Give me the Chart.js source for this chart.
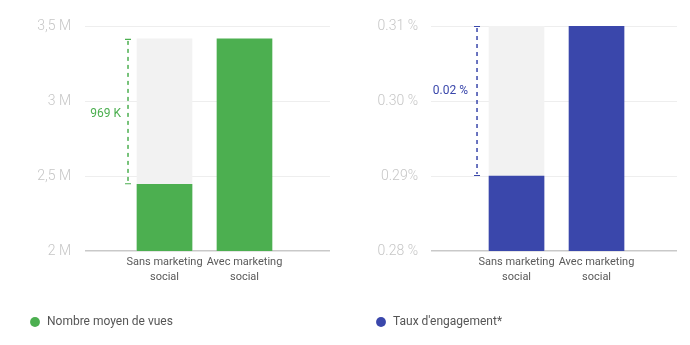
<!DOCTYPE html>
<html>
<head>
<meta charset="utf-8">
<script src="https://cdn.jsdelivr.net/npm/chart.js@4.4.1/dist/chart.umd.min.js"></script>
<style>
  html, body { margin: 0; padding: 0; background: #ffffff; }
  #wrap { position: relative; width: 690px; height: 345px; }
  .cell { position: absolute; top: 0; width: 345px; height: 345px; }
  #c1 { left: 0; }
  #c2 { left: 345px; }
</style>
</head>
<body>
<div id="wrap">
  <div class="cell" id="c1"><canvas id="views" width="345" height="345"></canvas></div>
  <div class="cell" id="c2"><canvas id="engage" width="345" height="345"></canvas></div>
</div>
<script>
// ---- data ----
const categories = [["Sans marketing", "social"], ["Avec marketing", "social"]];

const viewsSeriesName = "Nombre moyen de vues";
const viewsValues = [2445000, 3414000];
const viewsTickValues = [2000000, 2500000, 3000000, 3500000];
const viewsTickLabels = ["2 M", "2,5 M", "3 M", "3,5 M"];
const viewsDiffLabel = "969 K";

const engageSeriesName = "Taux d'engagement*";
const engageValues = [0.29, 0.31];
const engageTickValues = [0.28, 0.29, 0.30, 0.31];
const engageTickLabels = ["0.28 %", "0.29%", "0.30 %", "0.31 %"];
const engageDiffLabel = "0.02 %";

// ---- chart builder ----
const FONT = "Roboto, 'Noto Sans', sans-serif";

const diffPlugin = {
  id: 'diffMarker',
  afterDatasetsDraw(chart, args, opts) {
    const xs = chart.scales.x, ys = chart.scales.y;
    const vals = chart.data.datasets[0].data.map(d => d.y);
    const xBar = xs.getPixelForValue(0) - opts.barHalf - opts.gap;
    const yTop = ys.getPixelForValue(vals[1]);
    const yBot = ys.getPixelForValue(vals[0]);
    const ctx = chart.ctx;
    ctx.save();
    ctx.strokeStyle = opts.color;
    ctx.lineWidth = 1.5;
    ctx.setLineDash([4, 4]);
    ctx.beginPath();
    ctx.moveTo(xBar, yTop + 2);
    ctx.lineTo(xBar, yBot - 2);
    ctx.stroke();
    ctx.setLineDash([]);
    ctx.lineWidth = 1.2;
    ctx.beginPath();
    ctx.moveTo(xBar - 3, yTop + 0.5); ctx.lineTo(xBar + 3, yTop + 0.5);
    ctx.moveTo(xBar - 3, yBot - 0.5); ctx.lineTo(xBar + 3, yBot - 0.5);
    ctx.stroke();
    ctx.fillStyle = opts.color;
    ctx.font = "12px " + FONT;
    ctx.textAlign = 'right';
    ctx.textBaseline = 'middle';
    ctx.fillText(opts.label, xBar - opts.textGap, yTop + (yBot - yTop) * opts.frac);
    ctx.restore();
  }
};

function makeChart(canvasId, cfg) {
  const barW = 55;
  new Chart(document.getElementById(canvasId), {
    type: 'bar',
    data: {
      datasets: [
        {
          label: cfg.name,
          data: cfg.values.map((v, i) => ({ x: i, y: v })),
          backgroundColor: cfg.color,
          barThickness: barW,
          grouped: false,
          order: 0
        },
        {
          label: 'bg',
          data: [{ x: 0, y: cfg.values[1] }],
          backgroundColor: '#f2f2f2',
          barThickness: barW,
          grouped: false,
          order: 1
        }
      ]
    },
    options: {
      responsive: false,
      animation: false,
      events: [],
      layout: { padding: { top: 26, left: cfg.padLeft, right: cfg.padRight, bottom: 7 } },
      plugins: {
        tooltip: { enabled: false },
        legend: {
          position: 'bottom',
          align: 'start',
          labels: {
            filter: item => item.datasetIndex === 0,
            usePointStyle: true,
            pointStyle: 'circle',
            boxWidth: 12,
            boxHeight: 7,
            padding: 10,
            color: '#555555',
            font: { family: FONT, size: 12 }
          }
        },
        diffMarker: {
          color: cfg.color, label: cfg.diffLabel, barHalf: barW / 2,
          gap: cfg.gap, textGap: cfg.textGap, frac: cfg.frac
        }
      },
      scales: {
        x: {
          type: 'linear',
          offset: false,
          bounds: 'data',
          min: cfg.xMin, max: cfg.xMax,
          afterBuildTicks: s => { s.ticks = categories.map((c, i) => ({ value: i })); },
          afterFit: s => { s.height = 55; },
          grid: { display: false, drawTicks: false, offset: false },
          border: { display: false },
          ticks: {
            autoSkip: false,
            maxRotation: 0,
            padding: 4,
            color: '#5a5a5a',
            font: { family: FONT, size: 11, lineHeight: 1.35 },
            callback: v => categories[v]
          }
        },
        y: {
          min: cfg.ticks[0], max: cfg.ticks[cfg.ticks.length - 1],
          afterBuildTicks: s => { s.ticks = cfg.ticks.map(v => ({ value: v })); },
          afterFit: s => { s.width = cfg.yWidth; },
          grid: {
            drawTicks: false,
            color: c => (c.index === 0 ? '#c9c9c9' : '#eeeeee'),
            lineWidth: c => (c.index === 0 ? 1.5 : 1)
          },
          border: { display: false },
          ticks: {
            padding: cfg.tickPad,
            color: '#c6c6c6',
            font: { family: FONT, size: 14, weight: 300 },
            callback: (v, i) => cfg.tickLabels[i]
          }
        }
      }
    },
    plugins: [diffPlugin]
  });
}

makeChart('views', {
  name: viewsSeriesName, values: viewsValues, ticks: viewsTickValues, tickLabels: viewsTickLabels,
  diffLabel: viewsDiffLabel, color: '#4caf50',
  padLeft: 19, padRight: 15, yWidth: 66, tickPad: 14,
  xMin: -0.994, xMax: 2.069, gap: 9, textGap: 7, frac: 0.52
});

makeChart('engage', {
  name: engageSeriesName, values: engageValues, ticks: engageTickValues, tickLabels: engageTickLabels,
  diffLabel: engageDiffLabel, color: '#3a47ab',
  padLeft: 20, padRight: 13, yWidth: 66, tickPad: 13,
  xMin: -1.069, xMax: 2.006, gap: 12, textGap: 9, frac: 0.43
});
</script>
</body>
</html>
